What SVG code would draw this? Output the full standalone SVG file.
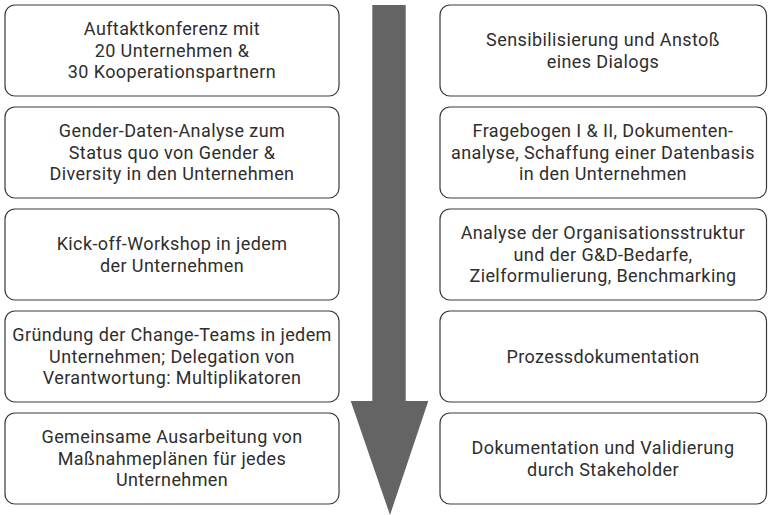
<svg xmlns="http://www.w3.org/2000/svg" width="769" height="515" viewBox="0 0 769 515">
<style>
.box{fill:#fff;stroke:#3a3a3a;stroke-width:1.2}
.t{font-family:Roboto,"Open Sans","Liberation Sans",sans-serif;font-size:18px;letter-spacing:0.4px;fill:#2e2e2e;text-anchor:middle}
</style>
<rect width="769" height="515" fill="#fff"/>
<g id="connectors">
<polygon id="arrow" points="372.3,5 405.7,5 405.7,401 428.3,401 390,515 350.7,401 372.3,401" fill="#646464"/>
</g>
<g id="l1"><rect class="box" x="5" y="5" width="334" height="91" rx="10"/>
<text class="t" x="172" y="35.3">Auftaktkonferenz mit<tspan x="172" dy="21.5">20 Unternehmen &amp;</tspan><tspan x="172" dy="21.5">30 Kooperationspartnern</tspan></text></g>
<g id="l2"><rect class="box" x="5" y="107" width="334" height="91" rx="10"/>
<text class="t" x="172" y="137.3">Gender-Daten-Analyse zum<tspan x="172" dy="21.5">Status quo von Gender &amp;</tspan><tspan x="172" dy="21.5">Diversity in den Unternehmen</tspan></text></g>
<g id="l3"><rect class="box" x="5" y="209" width="334" height="91" rx="10"/>
<text class="t" x="172" y="250">Kick-off-Workshop in jedem<tspan x="172" dy="21.5">der Unternehmen</tspan></text></g>
<g id="l4"><rect class="box" x="5" y="311" width="334" height="91" rx="10"/>
<text class="t" x="172" y="341.3">Gründung der Change-Teams in jedem<tspan x="172" dy="21.5">Unternehmen; Delegation von</tspan><tspan x="172" dy="21.5">Verantwortung: Multiplikatoren</tspan></text></g>
<g id="l5"><rect class="box" x="5" y="413" width="334" height="91" rx="10"/>
<text class="t" x="172" y="443.3">Gemeinsame Ausarbeitung von<tspan x="172" dy="21.5">Maßnahmeplänen für jedes</tspan><tspan x="172" dy="21.5">Unternehmen</tspan></text></g>
<g id="r1"><rect class="box" x="440" y="5" width="326.5" height="91" rx="10"/>
<text class="t" x="603" y="46">Sensibilisierung und Anstoß<tspan x="603" dy="21.5">eines Dialogs</tspan></text></g>
<g id="r2"><rect class="box" x="440" y="107" width="326.5" height="91" rx="10"/>
<text class="t" x="603" y="137.3">Fragebogen I &amp; II, Dokumenten-<tspan x="603" dy="21.5">analyse, Schaffung einer Datenbasis</tspan><tspan x="603" dy="21.5">in den Unternehmen</tspan></text></g>
<g id="r3"><rect class="box" x="440" y="209" width="326.5" height="91" rx="10"/>
<text class="t" x="603" y="239.3">Analyse der Organisationsstruktur<tspan x="603" dy="21.5">und der G&amp;D-Bedarfe,</tspan><tspan x="603" dy="21.5">Zielformulierung, Benchmarking</tspan></text></g>
<g id="r4"><rect class="box" x="440" y="311" width="326.5" height="91" rx="10"/>
<text class="t" x="603" y="362.8">Prozessdokumentation</text></g>
<g id="r5"><rect class="box" x="440" y="413" width="326.5" height="91" rx="10"/>
<text class="t" x="603" y="454">Dokumentation und Validierung<tspan x="603" dy="21.5">durch Stakeholder</tspan></text></g>
</svg>
